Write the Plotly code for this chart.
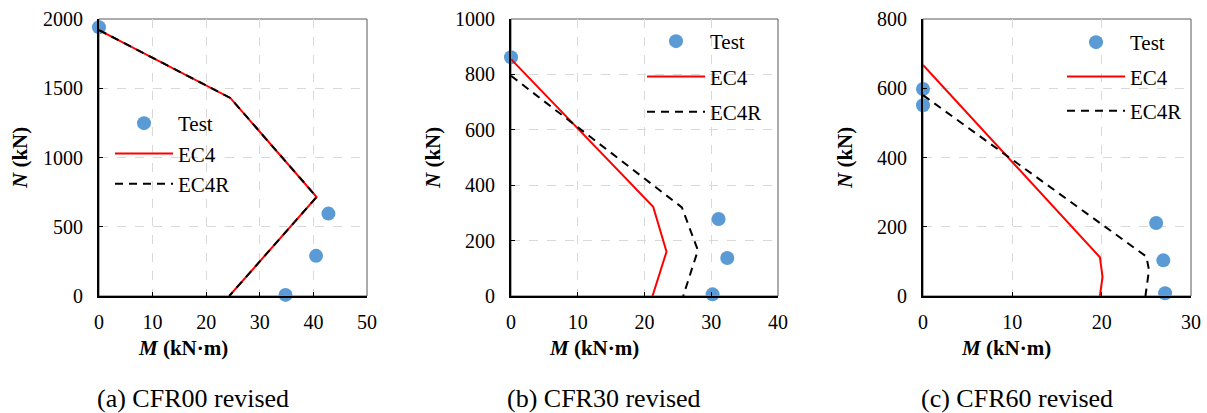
import plotly.graph_objects as go

W, H = 1207, 413
FONT = "Liberation Serif"

# ---- data ----
# (a) CFR00
a_test_M = [0, 42.8, 40.5, 34.8]
a_test_N = [1940, 595, 290, 8]
a_ec4_M = [0, 24.5, 40.6, 24.3]
a_ec4_N = [1920, 1430, 715, 0]
a_ec4r_M = [0, 24.5, 40.6, 24.3]
a_ec4r_N = [1920, 1430, 715, 0]

# (b) CFR30
b_test_M = [0, 31.1, 32.4, 30.2]
b_test_N = [862, 278, 137, 6]
b_ec4_M = [0, 21.3, 23.3, 21.2]
b_ec4_N = [855, 322, 160, 0]
b_ec4r_M = [0, 25.6, 28.0, 25.8]
b_ec4r_N = [795, 320, 165, 0]

# (c) CFR60
c_test_M = [0, 0, 26.1, 26.9, 27.1]
c_test_N = [598, 551, 211, 103, 8]
c_ec4_M = [0, 19.8, 20.1, 19.8]
c_ec4_N = [667, 112, 55, 0]
c_ec4r_M = [0, 25.0, 25.3, 24.9]
c_ec4r_N = [580, 114, 75, 0]

x_ranges = [[0, 50], [0, 40], [0, 30]]
y_ranges = [[0, 2000], [0, 1000], [0, 800]]
y_dticks = [500, 200, 200]
captions = ["(a) CFR00 revised", "(b) CFR30 revised", "(c) CFR60 revised"]

panels = [
    (a_test_M, a_test_N, a_ec4_M, a_ec4_N, a_ec4r_M, a_ec4r_N),
    (b_test_M, b_test_N, b_ec4_M, b_ec4_N, b_ec4r_M, b_ec4r_N),
    (c_test_M, c_test_N, c_ec4_M, c_ec4_N, c_ec4r_M, c_ec4r_N),
]

# ---- layout geometry (pixels) ----
plot_left = [99, 511, 923]
plot_right = [367, 778, 1191]
plot_top, plot_bottom = 19, 296
ylab_x = [20, 433, 845]
xlab_x = [183, 594, 1006]
cap_x = [193, 604, 1017]
leg_text_x = [178, 710, 1130]
leg_top_y = [119, 37, 38]
leg_gap = [0, 5, 4]

def px(x):
    return x / W

def py(y):
    return 1 - y / H

fig = go.Figure()
annotations = []
shapes = []
layout = {}

for i, (tm, tn, em, en, rm, rn) in enumerate(panels):
    sfx = "" if i == 0 else str(i + 1)
    xa, ya = "x" + sfx, "y" + sfx
    leg = "legend" + sfx
    fig.add_trace(go.Scatter(
        x=tm, y=tn, mode="markers", name="Test",
        marker=dict(color="#5b9bd5", size=14),
        cliponaxis=False, xaxis=xa, yaxis=ya, legend=leg, legendgroup=f"t{i}"))
    fig.add_trace(go.Scatter(
        x=em, y=en, mode="lines", name="EC4",
        line=dict(color="#ff0000", width=2),
        xaxis=xa, yaxis=ya, legend=leg, legendgroup=f"e{i}"))
    fig.add_trace(go.Scatter(
        x=rm, y=rn, mode="lines", name="EC4R",
        line=dict(color="#000000", width=2, dash="8px,6px"),
        xaxis=xa, yaxis=ya, legend=leg, legendgroup=f"r{i}"))

    common = dict(
        showline=True, linecolor="black", linewidth=2, mirror=False,
        showgrid=True, gridcolor="#d9d9d9", griddash="dash", gridwidth=1,
        zeroline=False, ticks="inside", ticklen=4, tickcolor="black",
        automargin=False,
        tickfont=dict(family=FONT, size=20, color="black"),
    )
    layout["xaxis" + sfx] = dict(
        common, domain=[px(plot_left[i]), px(plot_right[i])],
        range=x_ranges[i], dtick=10, anchor=ya, ticklabelstandoff=7)
    layout["yaxis" + sfx] = dict(
        common, domain=[py(plot_bottom), py(plot_top)],
        range=y_ranges[i], dtick=y_dticks[i], anchor=xa, ticklabelstandoff=10)
    layout[leg] = dict(
        x=px(leg_text_x[i] - 68), y=py(leg_top_y[i] - 16),
        xanchor="left", yanchor="top", bgcolor="rgba(0,0,0,0)",
        font=dict(family=FONT, size=21, color="black"),
        itemwidth=58, tracegroupgap=leg_gap[i], traceorder="grouped")

    shapes.append(dict(
        type="rect", xref=f"{xa} domain", yref=f"{ya} domain",
        x0=0, x1=1, y0=0, y1=1, line=dict(color="#595959", width=1),
        layer="below"))

    annotations.append(dict(
        text="<b><i>M</i> (kN·m)</b>", x=px(xlab_x[i]), y=py(348),
        xref="paper", yref="paper", showarrow=False,
        xanchor="center", yanchor="middle",
        font=dict(family=FONT, size=21, color="black")))
    annotations.append(dict(
        text="<b><i>N</i> (kN)</b>", x=px(ylab_x[i]), y=py(158),
        xref="paper", yref="paper", showarrow=False, textangle=-90,
        xanchor="center", yanchor="middle",
        font=dict(family=FONT, size=21, color="black")))
    annotations.append(dict(
        text=captions[i], x=px(cap_x[i]), y=py(398),
        xref="paper", yref="paper", showarrow=False,
        xanchor="center", yanchor="middle",
        font=dict(family=FONT, size=26, color="black")))

fig.update_layout(
    width=W, height=H, margin=dict(l=0, r=0, t=0, b=0, autoexpand=False),
    paper_bgcolor="white", plot_bgcolor="white",
    font=dict(family=FONT, size=20, color="black"),
    showlegend=True, annotations=annotations, shapes=shapes,
    **layout)

fig.write_html(
    "out.html",
    config={"displayModeBar": False},
    post_script="document.body.style.margin='0';document.body.style.padding='0';",
)
